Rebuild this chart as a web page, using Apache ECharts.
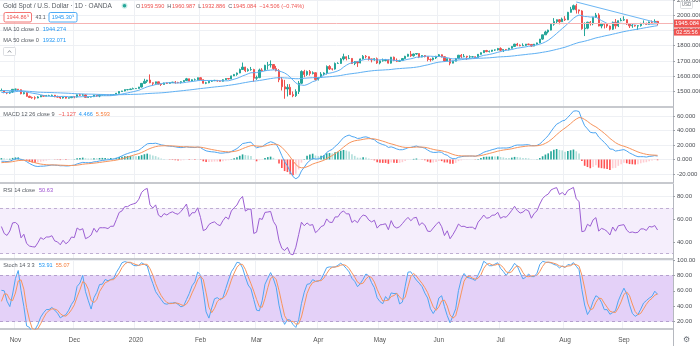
<!DOCTYPE html>
<html>
<head>
<meta charset="utf-8">
<title>Gold Spot / U.S. Dollar · 1D · OANDA</title>
<script src="https://cdn.jsdelivr.net/npm/echarts@6/dist/echarts.min.js"></script>
<style>
  html, body { margin: 0; padding: 0; background: #ffffff; }
  #chart { width: 700px; height: 346px; }
</style>
</head>
<body>
<div id="chart"></div>
<script>
// Daily XAU/USD bars, one per weekday starting 2019-08-12: [open, high, low, close]
const firstBarDate = '2019-08-12';
const firstShownDate = '2019-10-25';
const bars = [
  // Aug 2019
  [1497,1514,1494,1511],[1511,1535,1480,1502],[1502,1524,1499,1516],[1516,1525,1510,1524],[1524,1527,1506,1513],
  [1513,1516,1492,1496],[1496,1512,1494,1506],[1506,1510,1495,1502],[1502,1504,1491,1497],[1497,1531,1492,1527],
  [1527,1555,1519,1527],[1527,1545,1523,1542],[1542,1551,1534,1538],[1538,1542,1518,1527],[1527,1536,1517,1520],
  // Sep 2019
  [1520,1532,1518,1529],[1529,1549,1527,1547],[1547,1557,1536,1553],[1553,1553,1504,1506],[1506,1524,1501,1507],
  [1507,1511,1491,1499],[1499,1501,1484,1486],[1486,1499,1483,1497],[1497,1524,1494,1510],[1510,1511,1486,1488],
  [1488,1512,1486,1498],[1498,1511,1496,1502],[1502,1505,1491,1493],[1493,1511,1490,1498],[1498,1518,1495,1516],
  [1516,1526,1512,1522],[1522,1535,1516,1531],[1531,1532,1501,1504],[1504,1514,1498,1505],[1505,1512,1490,1497],
  [1497,1498,1470,1472],
  // Oct 2019
  [1472,1489,1459,1478],[1478,1502,1476,1499],[1499,1511,1493,1505],[1505,1514,1501,1505],
  [1505,1507,1490,1494],[1494,1507,1492,1505],[1505,1513,1499,1506],[1506,1516,1490,1494],[1494,1497,1475,1489],
  [1489,1497,1485,1494],[1494,1496,1475,1481],[1481,1494,1478,1490],[1490,1500,1488,1493],[1493,1495,1484,1490],
  [1490,1495,1480,1484],[1484,1490,1481,1487],[1487,1495,1484,1492],[1492,1506,1488,1504],[1504,1518,1502,1505],
  [1505,1507,1487,1492],[1492,1493,1481,1488],[1488,1497,1483,1496],[1496,1514,1489,1513],
  // Nov 2019
  [1513,1517,1502,1514],
  [1514,1515,1504,1510],[1510,1512,1480,1484],[1484,1495,1480,1491],[1491,1494,1465,1467],[1467,1471,1456,1459],
  [1459,1465,1451,1457],[1457,1467,1445,1456],[1456,1468,1454,1463],[1463,1474,1462,1472],[1472,1474,1464,1468],
  [1468,1476,1467,1472],[1472,1477,1468,1472],[1472,1478,1465,1474],[1474,1476,1461,1464],[1464,1471,1459,1462],
  [1462,1464,1450,1456],[1456,1464,1452,1462],[1462,1463,1452,1455],[1455,1459,1453,1458],[1458,1466,1455,1464],
  // Dec 2019
  [1464,1467,1454,1463],[1463,1479,1459,1477],[1477,1484,1469,1474],[1474,1483,1471,1476],[1476,1481,1458,1460],
  [1460,1464,1457,1462],[1462,1467,1460,1465],[1465,1476,1462,1475],[1475,1476,1464,1469],[1469,1479,1461,1476],
  [1476,1478,1472,1476],[1476,1480,1473,1476],[1476,1478,1472,1475],[1475,1481,1471,1478],[1478,1480,1474,1478],
  [1478,1489,1477,1487],[1487,1500,1486,1499],[1499,1503,1498,1502],[1502,1512,1500,1511],[1511,1514,1506,1511],
  [1511,1517,1510,1515],[1515,1524,1514,1517],
  // Jan 2020
  [1517,1520,1516,1519],[1519,1529,1517,1528],[1528,1553,1525,1552],
  [1552,1582,1551,1566],[1566,1575,1555,1574],[1574,1611,1553,1556],[1556,1558,1537,1552],[1552,1563,1543,1562],
  [1562,1563,1545,1548],[1548,1549,1535,1545],[1545,1557,1544,1554],[1554,1558,1548,1552],[1552,1560,1549,1557],
  [1557,1562,1556,1560],[1560,1567,1550,1558],[1558,1562,1553,1557],[1557,1566,1551,1563],[1563,1573,1561,1571],
  [1571,1588,1570,1582],[1582,1583,1565,1567],[1567,1578,1565,1576],[1576,1584,1570,1576],[1576,1590,1571,1589],
  // Feb 2020
  [1589,1592,1574,1576],[1576,1578,1551,1553],[1553,1562,1547,1556],[1556,1567,1553,1566],[1566,1574,1561,1570],
  [1570,1575,1567,1572],[1572,1573,1563,1568],[1568,1570,1562,1566],[1566,1579,1564,1576],[1576,1586,1574,1584],
  [1584,1585,1578,1581],[1581,1603,1579,1601],[1601,1612,1600,1611],[1611,1623,1602,1620],[1620,1649,1619,1643],
  [1643,1689,1641,1659],[1659,1661,1626,1635],[1635,1651,1629,1642],[1642,1660,1635,1643],[1643,1648,1563,1586],
  // Mar 2020
  [1586,1603,1575,1590],[1590,1649,1586,1640],[1640,1652,1630,1637],[1637,1674,1634,1671],[1671,1693,1642,1673],
  [1673,1703,1656,1676],[1676,1677,1641,1649],[1649,1667,1631,1635],[1635,1646,1560,1576],[1576,1594,1505,1530],
  [1530,1575,1451,1515],[1515,1547,1466,1526],[1526,1547,1476,1478],[1478,1499,1461,1471],[1471,1513,1463,1498],
  [1498,1568,1482,1553],[1553,1638,1547,1630],[1630,1641,1592,1610],[1610,1636,1601,1630],[1630,1640,1603,1617],
  [1617,1631,1611,1622],[1622,1624,1570,1577],
  // Apr 2020
  [1577,1593,1571,1591],[1591,1626,1588,1613],[1613,1625,1605,1620],
  [1620,1670,1610,1663],[1663,1672,1640,1647],[1647,1650,1637,1646],[1646,1689,1642,1683],[1683,1691,1680,1683],
  [1683,1719,1680,1713],[1713,1747,1703,1727],[1727,1729,1703,1716],[1716,1738,1711,1716],[1716,1718,1680,1683],
  [1683,1699,1672,1695],[1695,1696,1660,1686],[1686,1715,1684,1713],[1713,1738,1709,1730],[1730,1738,1716,1727],
  [1727,1729,1702,1713],[1713,1714,1690,1706],[1706,1718,1701,1714],[1714,1722,1680,1686],
  // May 2020
  [1686,1703,1677,1700],
  [1700,1715,1695,1702],[1702,1711,1697,1705],[1705,1710,1683,1685],[1685,1726,1682,1724],[1724,1728,1698,1703],
  [1703,1716,1692,1697],[1697,1707,1694,1702],[1702,1717,1699,1715],[1715,1733,1712,1730],[1730,1746,1727,1743],
  [1743,1765,1726,1733],[1733,1747,1728,1745],[1745,1749,1740,1748],[1748,1748,1718,1725],[1725,1737,1724,1735],
  [1735,1738,1723,1728],[1728,1729,1697,1709],[1709,1716,1695,1708],[1708,1722,1702,1719],[1719,1733,1712,1730],
  // Jun 2020
  [1730,1745,1727,1740],[1740,1742,1722,1727],[1727,1729,1693,1699],[1699,1717,1697,1714],[1714,1719,1671,1685],
  [1685,1701,1684,1698],[1698,1719,1697,1715],[1715,1739,1711,1737],[1737,1745,1716,1729],[1729,1745,1724,1730],
  [1730,1733,1706,1726],[1726,1736,1716,1727],[1727,1732,1721,1727],[1727,1729,1716,1722],[1722,1745,1720,1743],
  [1743,1755,1741,1754],[1754,1769,1752,1768],[1768,1772,1757,1761],[1761,1768,1755,1763],[1763,1771,1759,1771],
  [1771,1775,1765,1772],[1772,1785,1768,1781],
  // Jul 2020
  [1781,1789,1762,1770],[1770,1775,1758,1775],[1775,1777,1770,1774],
  [1774,1785,1769,1783],[1783,1797,1781,1795],[1795,1812,1791,1810],[1810,1818,1797,1803],[1803,1808,1796,1799],
  [1799,1815,1797,1802],[1802,1811,1797,1810],[1810,1813,1803,1808],[1808,1810,1792,1797],[1797,1811,1796,1810],
  [1810,1820,1806,1818],[1818,1844,1816,1843],[1843,1872,1838,1871],[1871,1898,1870,1890],[1890,1905,1880,1902],
  [1902,1945,1900,1941],[1941,1981,1931,1958],[1958,1972,1944,1970],[1970,1975,1940,1957],[1957,1984,1957,1975],
  // Aug 2020
  [1975,1994,1962,1970],[1970,2022,1968,2019],[2019,2055,2017,2039],[2039,2070,2033,2063],[2063,2075,2011,2035],
  [2035,2037,2010,2028],[2028,2033,1905,1911],[1911,1953,1863,1915],[1915,1957,1908,1954],[1954,1962,1932,1944],
  [1944,1989,1934,1985],[1985,2015,1983,2001],[2001,2013,1927,1929],[1929,1950,1914,1946],[1946,1948,1913,1940],
  [1940,1949,1917,1929],[1929,1932,1900,1908],[1908,1958,1903,1954],[1954,1975,1911,1930],[1930,1965,1922,1964],
  [1964,1982,1960,1968],
  // Sep 2020
  [1968,1993,1962,1971],[1971,1972,1937,1943],[1943,1945,1916,1930],[1930,1945,1917,1933],
  [1933,1937,1925,1929],[1929,1935,1903,1931],[1931,1950,1925,1946],[1946,1966,1940,1946],[1946,1951,1936,1940],
  [1940,1958,1937,1956],[1956,1966,1946,1954],[1954,1973,1952,1959.59],[1959.59,1960.987,1932.886,1945.084]
];

// Trend line drawn from the August high
const trendDates = ['2020-08-07', '2020-09-17'];
const trendPrices = [2087, 1950];

// Axis ticks
const monthNames = ['Jan','Feb','Mar','Apr','May','Jun','Jul','Aug','Sep','Oct','Nov','Dec'];
const priceTicks = [1500, 1600, 1700, 1800, 1900, 2000, 2100];
const macdTicks = [-20, 0, 20, 40, 60];
const rsiTicks = [40, 60, 80];
const stochTicks = [20, 40, 60, 80, 100];
const rsiBand = [30, 70];
const stochBand = [20, 80];
const emptyBarsRight = 5;

// Legend readouts
const headerTitle = 'Gold Spot / U.S. Dollar · 1D · OANDA';
const ohlcText = [['O','1959.590'],['H','1960.987'],['L','1932.886'],['C','1945.084']];
const changeText = '−14.506 (−0.74%)';
const bidText = '1944.86⁹', spreadText = '43.1', askText = '1945.30⁹';
const maLegend = [['MA 10 close 0', '1944.274'], ['MA 50 close 0', '1932.071']];
const macdLegend = ['MACD 12 26 close 9', '−1.127', '4.466', '5.593'];
const rsiLegend = ['RSI 14 close', '50.63'];
const stochLegend = ['Stoch 14 3 3', '53.91', '55.07'];
const countdownText = '02:55:56';

// ---------- helpers ----------
function weekdays(startIso, count) {
  const out = [];
  const d = new Date(startIso + 'T00:00:00Z');
  while (out.length < count) {
    const w = d.getUTCDay();
    if (w !== 0 && w !== 6) out.push(d.toISOString().slice(0, 10));
    d.setUTCDate(d.getUTCDate() + 1);
  }
  return out;
}
function sma(src, n) {
  const out = new Array(src.length).fill(null);
  for (let i = n - 1; i < src.length; i++) {
    let s = 0, ok = true;
    for (let j = i - n + 1; j <= i; j++) { if (src[j] == null) { ok = false; break; } s += src[j]; }
    if (ok) out[i] = s / n;
  }
  return out;
}
function ema(src, n) {
  const k = 2 / (n + 1), out = new Array(src.length).fill(null);
  let prev = null; const seed = [];
  for (let i = 0; i < src.length; i++) {
    const v = src[i];
    if (v == null) continue;
    if (prev == null) {
      seed.push(v);
      if (seed.length === n) { prev = seed.reduce((a, b) => a + b, 0) / n; out[i] = prev; }
      continue;
    }
    prev = v * k + prev * (1 - k);
    out[i] = prev;
  }
  return out;
}
function rsi(src, n) {
  const out = new Array(src.length).fill(null);
  let ag = 0, al = 0;
  for (let i = 1; i < src.length; i++) {
    const ch = src[i] - src[i - 1];
    const g = Math.max(ch, 0), l = Math.max(-ch, 0);
    if (i <= n) {
      ag += g / n; al += l / n;
      if (i < n) continue;
    } else {
      ag = (ag * (n - 1) + g) / n;
      al = (al * (n - 1) + l) / n;
    }
    out[i] = al === 0 ? 100 : 100 - 100 / (1 + ag / al);
  }
  return out;
}
function stochRaw(high, low, close, n) {
  const out = new Array(close.length).fill(null);
  for (let i = n - 1; i < close.length; i++) {
    let hh = -Infinity, ll = Infinity;
    for (let j = i - n + 1; j <= i; j++) { hh = Math.max(hh, high[j]); ll = Math.min(ll, low[j]); }
    out[i] = hh === ll ? 50 : 100 * (close[i] - ll) / (hh - ll);
  }
  return out;
}

// ---------- derived series ----------
const dates = weekdays(firstBarDate, bars.length);
const highs = bars.map(b => b[1]), lows = bars.map(b => b[2]), closes = bars.map(b => b[3]);
const ma10 = sma(closes, 10), ma50 = sma(closes, 50);
const ema12 = ema(closes, 12), ema26 = ema(closes, 26);
const macd = closes.map((_, i) => (ema12[i] != null && ema26[i] != null) ? ema12[i] - ema26[i] : null);
const signal = ema(macd, 9);
const hist = macd.map((m, i) => (m != null && signal[i] != null) ? m - signal[i] : null);
const rsi14 = rsi(closes, 14);
const stochK = sma(stochRaw(highs, lows, closes, 14), 3);
const stochD = sma(stochK, 3);

const start = dates.indexOf(firstShownDate);
const pad = new Array(emptyBarsRight).fill(null);
const view = arr => arr.slice(start).concat(pad);
const shownDates = dates.slice(start);
const categories = shownDates.concat(pad.map((_, i) => 'after' + i));

// first bar of each month gets a label and a vertical grid line
const monthStart = new Set();
for (let i = 1; i < shownDates.length; i++) {
  if (shownDates[i].slice(5, 7) !== shownDates[i - 1].slice(5, 7)) monthStart.add(i);
}
const isMonthStart = idx => monthStart.has(idx);
function monthLabel(value) {
  if (!/^\d{4}-/.test(value)) return '';
  const m = parseInt(value.slice(5, 7), 10) - 1;
  return m === 0 ? value.slice(0, 4) : monthNames[m];
}

const candleData = bars.slice(start).map(b => [b[0], b[3], b[2], b[1]]);
const histShown = view(hist);
const histData = histShown.map((h, i) => {
  if (h == null) return null;
  const prev = i > 0 && histShown[i - 1] != null ? histShown[i - 1] : hist[start - 1];
  let color;
  if (h >= 0) color = h >= prev ? '#26a69a' : '#b2dfdb';
  else color = h <= prev ? '#ff5252' : '#ffcdd2';
  return { value: h, itemStyle: { color } };
});
const trendData = trendDates.map((d, i) => [shownDates.indexOf(d), trendPrices[i]]);
const lastClose = closes[closes.length - 1];

// ---------- layout ----------
const FONT = "'Liberation Sans', Arial, sans-serif";
const AXIS_GRAY = '#b5b8bf';
const GRID_LINE = '#eef0f4';
const panes = [
  { top: 0, height: 106.5, min: 1400, max: 2100, ticks: priceTicks, digits: 3 },
  { top: 107.5, height: 75, min: -31.7, max: 71.7, ticks: macdTicks, digits: 3 },
  { top: 184, height: 75, min: 25.4, max: 91.1, ticks: rsiTicks, digits: 2 },
  { top: 260, height: 69, min: 10.4, max: 100, ticks: stochTicks, digits: 2 }
];

const grids = panes.map(p => ({ left: 0, right: 27, top: p.top, height: p.height, outerBoundsMode: 'none', containLabel: false }));
const xAxes = panes.map((p, i) => ({
  type: 'category', gridIndex: i, data: categories, boundaryGap: true,
  axisLine: { show: true, onZero: false, lineStyle: { color: AXIS_GRAY, width: 1.5 } },
  axisTick: { show: false },
  axisLabel: {
    show: i === panes.length - 1, interval: isMonthStart, formatter: monthLabel,
    fontSize: 6.5, color: '#555', fontFamily: FONT, margin: 8
  },
  splitLine: { show: true, interval: isMonthStart, lineStyle: { color: GRID_LINE, width: 1 } }
}));
const yAxes = panes.map((p, i) => ({
  type: 'value', gridIndex: i, position: 'right', min: p.min, max: p.max,
  axisLine: { show: true, lineStyle: { color: AXIS_GRAY, width: 1 } },
  axisTick: { show: true, length: 2, customValues: p.ticks, lineStyle: { color: '#9da1a8' } },
  axisLabel: {
    customValues: p.ticks, fontSize: 6, color: '#4a4d53', fontFamily: FONT, margin: 4,
    formatter: v => v.toFixed(p.digits)
  },
  splitLine: { show: true, lineStyle: { color: GRID_LINE, width: 1 } }
}));

const thin = color => ({ width: 1, color });
const series = [
  {
    type: 'candlestick', name: 'XAUUSD', xAxisIndex: 0, yAxisIndex: 0, data: candleData,
    barWidth: '62%', z: 3,
    itemStyle: { color: '#26a69a', color0: '#ef5350', borderColor: '#26a69a', borderColor0: '#ef5350', borderWidth: 1 },
    markLine: {
      silent: true, symbol: 'none', label: { show: false }, animation: false,
      lineStyle: { color: '#f6b3b3', type: 'solid', width: 1 },
      data: [{ yAxis: lastClose }]
    }
  },
  { type: 'line', name: 'MA 10', xAxisIndex: 0, yAxisIndex: 0, data: view(ma10), showSymbol: false, lineStyle: thin('#5fb0f3'), z: 4 },
  { type: 'line', name: 'MA 50', xAxisIndex: 0, yAxisIndex: 0, data: view(ma50), showSymbol: false, lineStyle: thin('#5fb0f3'), z: 4 },
  { type: 'line', name: 'Trend', xAxisIndex: 0, yAxisIndex: 0, data: trendData, showSymbol: false, lineStyle: thin('#6cb6f4'), z: 4 },

  { type: 'bar', name: 'Histogram', xAxisIndex: 1, yAxisIndex: 1, data: histData, barWidth: '58%', z: 2 },
  { type: 'line', name: 'MACD', xAxisIndex: 1, yAxisIndex: 1, data: view(macd), showSymbol: false, lineStyle: thin('#4ea6f2'), z: 4 },
  { type: 'line', name: 'Signal', xAxisIndex: 1, yAxisIndex: 1, data: view(signal), showSymbol: false, lineStyle: thin('#f7945c'), z: 4 },

  {
    type: 'line', name: 'RSI band', xAxisIndex: 2, yAxisIndex: 2, data: pad.slice(), showSymbol: false, z: 1, silent: true,
    lineStyle: { opacity: 0 },
    markArea: { silent: true, itemStyle: { color: '#f5eefc' }, data: [[{ yAxis: rsiBand[0] }, { yAxis: rsiBand[1] }]] },
    markLine: {
      silent: true, symbol: 'none', label: { show: false },
      lineStyle: { color: '#bfaed2', type: [3, 3], width: 1 },
      data: [{ yAxis: rsiBand[0] }, { yAxis: rsiBand[1] }]
    }
  },
  { type: 'line', name: 'RSI', xAxisIndex: 2, yAxisIndex: 2, data: view(rsi14), showSymbol: false, lineStyle: thin('#9c5fd3'), z: 4 },

  {
    type: 'line', name: 'Stoch band', xAxisIndex: 3, yAxisIndex: 3, data: pad.slice(), showSymbol: false, z: 1, silent: true,
    lineStyle: { opacity: 0 },
    markArea: { silent: true, itemStyle: { color: '#e4d1f8' }, data: [[{ yAxis: stochBand[0] }, { yAxis: stochBand[1] }]] },
    markLine: {
      silent: true, symbol: 'none', label: { show: false },
      lineStyle: { color: '#b49fce', type: [3, 3], width: 1 },
      data: [{ yAxis: stochBand[0] }, { yAxis: stochBand[1] }]
    }
  },
  { type: 'line', name: '%K', xAxisIndex: 3, yAxisIndex: 3, data: view(stochK), showSymbol: false, lineStyle: thin('#4ea6f2'), z: 4 },
  { type: 'line', name: '%D', xAxisIndex: 3, yAxisIndex: 3, data: view(stochD), showSymbol: false, lineStyle: thin('#f7945c'), z: 4 }
];

const chart = echarts.init(document.getElementById('chart'), null, { renderer: 'canvas', width: 700, height: 346 });
chart.setOption({
  animation: false,
  backgroundColor: '#ffffff',
  grid: grids, xAxis: xAxes, yAxis: yAxes, series
});

// ---------- legend texts and price tag ----------
const measureCtx = document.createElement('canvas').getContext('2d');
function textWidth(str, size) {
  measureCtx.font = size + 'px ' + FONT;
  return measureCtx.measureText(str).width;
}
const g = [];
function text(x, y, str, size, color, extra) {
  g.push({
    type: 'text', x, y, z: 100,
    style: Object.assign({ text: str, fontSize: size, fontFamily: FONT, fill: color, verticalAlign: 'middle', align: 'left' }, extra || {})
  });
}
// lays out coloured pieces one after another; gap is the space after each piece
function row(x, y, size, pieces) {
  pieces.forEach(([str, color, gap]) => {
    text(x, y, str, size, color);
    x += textWidth(str, size) + (gap == null ? 3 : gap);
  });
  return x;
}
const GRAY = '#555a61', RED = '#ef5350', BLUE = '#2196f3', ORANGE = '#f57c3a', PURPLE = '#9c4fd0';
const LEG = 5.6;

text(3, 6, headerTitle, 6.5, GRAY);
g.push({ type: 'circle', z: 100, shape: { cx: 124.5, cy: 5.8, r: 3 }, style: { fill: '#cdeee8' } });
g.push({ type: 'circle', z: 101, shape: { cx: 124.5, cy: 5.8, r: 1.8 }, style: { fill: '#26a69a' } });
const ohlcPieces = [];
ohlcText.forEach(([k, v]) => { ohlcPieces.push([k, GRAY, 0.6]); ohlcPieces.push([v, RED, 3]); });
ohlcPieces.push([changeText, RED, 0]);
row(136, 6, LEG, ohlcPieces);

g.push({ type: 'rect', z: 100, shape: { x: 4, y: 12.5, width: 27.5, height: 9.5, r: 1.5 }, style: { fill: '#fff', stroke: RED, lineWidth: 0.8 } });
text(17.75, 17.3, bidText, LEG, RED, { align: 'center' });
text(35.5, 17.3, spreadText, 5.2, GRAY);
g.push({ type: 'rect', z: 100, shape: { x: 49, y: 12.5, width: 28, height: 9.5, r: 1.5 }, style: { fill: '#fff', stroke: BLUE, lineWidth: 0.8 } });
text(63, 17.3, askText, LEG, BLUE, { align: 'center' });

row(3.3, 29.7, LEG, [[maLegend[0][0], GRAY, 4], [maLegend[0][1], BLUE]]);
row(3.3, 40, LEG, [[maLegend[1][0], GRAY, 4], [maLegend[1][1], BLUE]]);
g.push({ type: 'rect', z: 100, shape: { x: 3.5, y: 47.5, width: 12, height: 8, r: 1 }, style: { fill: '#fff', stroke: '#d3d6db', lineWidth: 0.8 } });
g.push({ type: 'polyline', z: 101, shape: { points: [[7.8, 52.6], [9.5, 50.6], [11.2, 52.6]] }, style: { fill: 'none', stroke: '#7a7e85', lineWidth: 0.8 } });

row(3.3, 114, LEG, [[macdLegend[0], GRAY, 4], [macdLegend[1], RED], [macdLegend[2], BLUE], [macdLegend[3], ORANGE]]);
row(3.3, 190.5, LEG, [[rsiLegend[0], GRAY, 4], [rsiLegend[1], PURPLE]]);
row(3.3, 265.7, LEG, [[stochLegend[0], GRAY, 4], [stochLegend[1], BLUE], [stochLegend[2], ORANGE]]);

// price tag on the right axis, placed at the last close
const py = chart.convertToPixel({ yAxisIndex: 0 }, lastClose);
g.push({ type: 'rect', z: 100, shape: { x: 674, y: py - 4, width: 26, height: 8 }, style: { fill: RED } });
text(687, py, lastClose.toFixed(3), 5.8, '#ffffff', { align: 'center' });
g.push({ type: 'rect', z: 100, shape: { x: 674, y: py + 5, width: 26, height: 7 }, style: { fill: RED } });
text(687, py + 8.5, countdownText, 5.5, '#ffffff', { align: 'center' });

// currency badge at the top of the price scale
g.push({ type: 'rect', z: 100, shape: { x: 680.5, y: 1.5, width: 12, height: 7, r: 1 }, style: { fill: '#fff', stroke: '#cfd2d7', lineWidth: 0.7 } });
text(686.5, 5, 'USD', 4.5, '#6b7078', { align: 'center' });

// settings gear under the price scale
g.push({ type: 'line', z: 100, shape: { x1: 673.5, y1: 329, x2: 673.5, y2: 346 }, style: { stroke: AXIS_GRAY, lineWidth: 1 } });
text(686.5, 339.5, '⚙', 8, '#6b7078', { align: 'center', fontFamily: "'DejaVu Sans', sans-serif" });

chart.setOption({ graphic: { elements: g } });
</script>
</body>
</html>
